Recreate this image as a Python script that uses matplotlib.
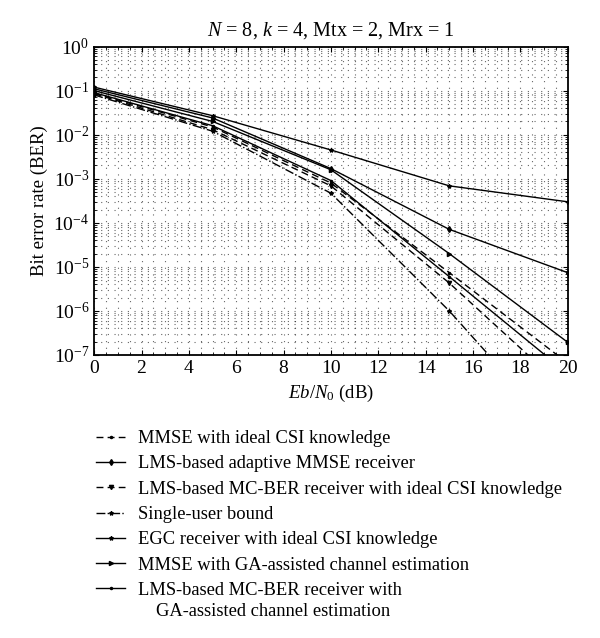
import matplotlib
matplotlib.use('Agg')
import matplotlib.pyplot as plt
from matplotlib.ticker import LogLocator, MultipleLocator, NullFormatter

plt.rcParams['font.family'] = ['Liberation Serif', 'DejaVu Serif']
plt.rcParams['mathtext.fontset'] = 'custom'
plt.rcParams['mathtext.rm'] = 'Liberation Serif'
plt.rcParams['mathtext.it'] = 'Liberation Serif:italic'

snr = [0, 5, 10, 15, 20]

labels = ['MMSE with ideal CSI knowledge',
          'LMS-based adaptive MMSE receiver',
          'LMS-based MC-BER receiver with ideal CSI knowledge',
          'Single-user bound',
          'EGC receiver with ideal CSI knowledge',
          'MMSE with GA-assisted channel estimation',
          'LMS-based MC-BER receiver with']
label_cont = 'GA-assisted channel estimation'

ber_mmse_ideal = [0.088, 0.015, 8.0e-4, 7.4e-6, 6.6e-8]
ber_lms_mmse = [0.11, 0.024, 1.7e-3, 7.1e-5, 7.4e-6]
ber_mcber_ideal = [0.085, 0.013, 6.9e-4, 4.3e-6, 1.5e-8]
ber_single = [0.08, 0.012, 4.7e-4, 1.0e-6, 1.0e-9]
ber_egc = [0.12, 0.027, 4.5e-3, 6.9e-4, 3.0e-4]
ber_mmse_ga = [0.10, 0.02, 1.6e-3, 2.0e-5, 1.95e-7]
ber_mcber_ga = [0.09, 0.016, 9.1e-4, 6.0e-6, 3.8e-8]

series = [ber_mmse_ideal, ber_lms_mmse, ber_mcber_ideal, ber_single,
          ber_egc, ber_mmse_ga, ber_mcber_ga]
styles = [((0, (5, 3)), '.'), ('-', 'd'), ((0, (5, 3)), 'v'), ('-.', '*'),
          ('-', '*'), ('-', '>'), ('-', '.')]

fig = plt.figure(figsize=(6, 6.38), dpi=100)
ax = fig.add_axes([0.157, 0.4436, 0.789, 0.4834])

for y, (ls, mk), lab in zip(series, styles, labels):
    ax.semilogy(snr, y, color='black', linestyle=ls, marker=mk,
                markersize=3, linewidth=1.0, label=lab)

ax.set_xlim(0, 20)
ax.set_ylim(1e-7, 1)
ax.xaxis.set_major_locator(MultipleLocator(2))
ax.xaxis.set_minor_locator(MultipleLocator(0.5))
ax.yaxis.set_major_locator(LogLocator(base=10, numticks=10))
ax.yaxis.set_minor_locator(LogLocator(base=10, subs=range(2, 10), numticks=100))
ax.yaxis.set_minor_formatter(NullFormatter())
ax.grid(True, which='both', linestyle=(0, (1, 5)), color='black', linewidth=0.8, alpha=0.6)
ax.tick_params(which='both', direction='in', top=True, right=True, labelsize=14)
ax.tick_params(which='minor', length=2)
for s in ax.spines.values():
    s.set_linewidth(1.3)

ax.set_title('$N$ = 8, $k$ = 4, Mtx = 2, Mrx = 1', fontsize=14.5, pad=8)
ax.set_xlabel('$Eb/N_0$ (dB)', fontsize=13.5)
ax.set_ylabel('Bit error rate (BER)', fontsize=13.5)

leg = fig.legend(loc='upper left', bbox_to_anchor=(0.132, 0.352), frameon=False,
                 fontsize=13.3, handlelength=1.6, labelspacing=0.45, handletextpad=0.7)

# second line of the last legend entry, indented under the first
fig.canvas.draw()
bb = leg.get_texts()[-1].get_window_extent().transformed(fig.transFigure.inverted())
fig.text(bb.x0 + 0.03, bb.y0 - 0.006, label_cont, fontsize=13.3, va='top', ha='left')

fig.savefig('out.png')
